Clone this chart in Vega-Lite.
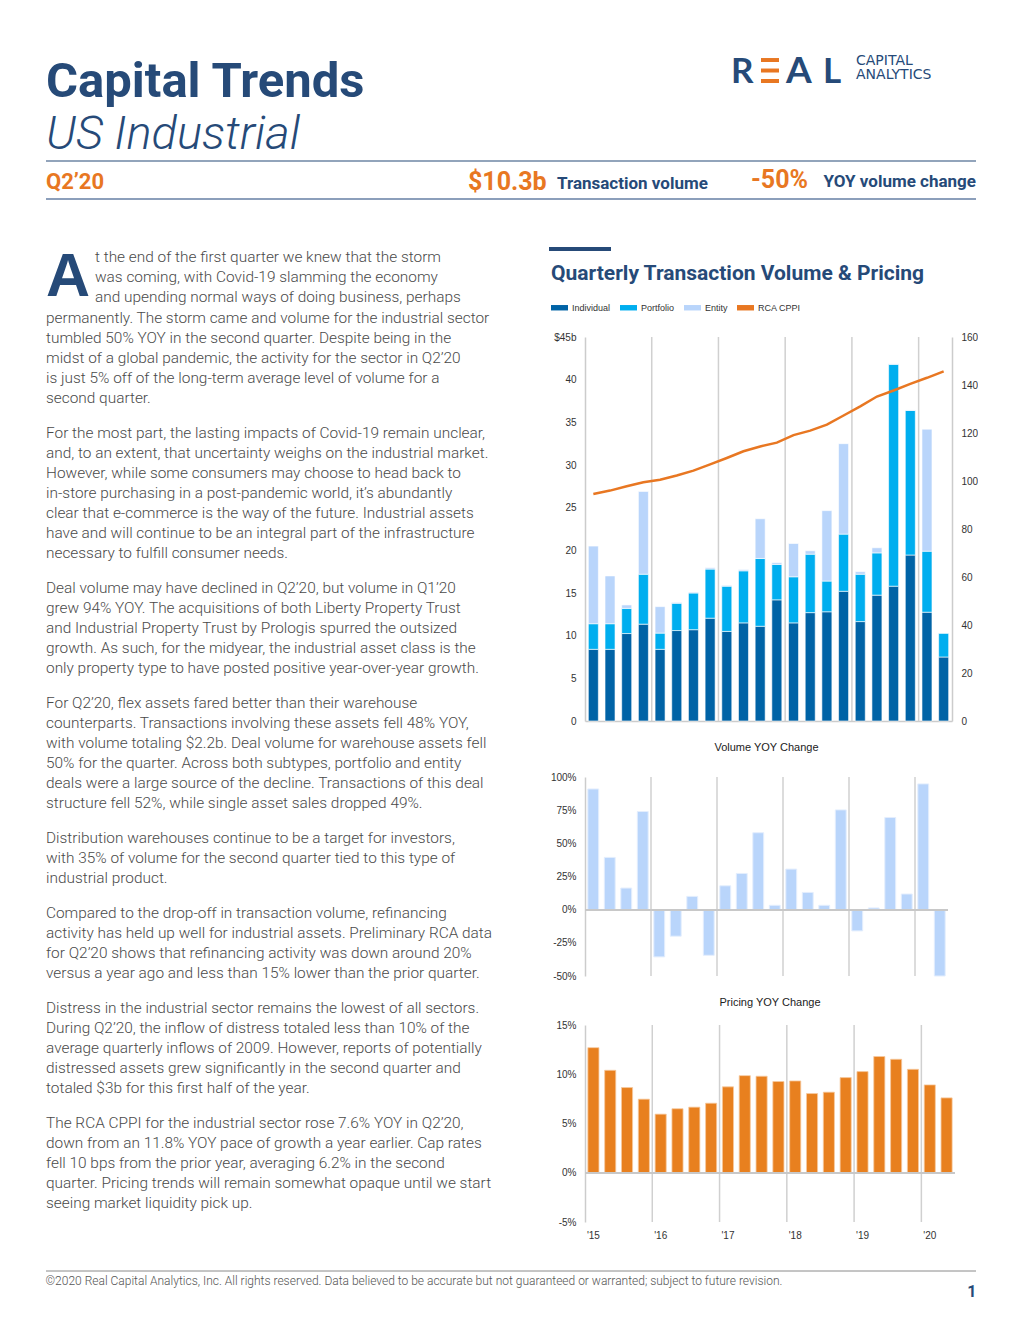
{
  "$schema": "https://vega.github.io/schema/vega-lite/v6.json",
  "background": "white",
  "padding": {"left": 45, "top": 53, "right": 0, "bottom": 0},
  "datasets": {
    "qd": [
      {"q":"2015Q1","vyoy":91,"pyoy":12.7,"cppi":94.6},
      {"q":"2015Q2","vyoy":39.4,"pyoy":10.4,"cppi":96.0},
      {"q":"2015Q3","vyoy":16.3,"pyoy":8.65,"cppi":97.8},
      {"q":"2015Q4","vyoy":74,"pyoy":7.47,"cppi":99.5},
      {"q":"2016Q1","vyoy":-35.6,"pyoy":5.95,"cppi":100.5},
      {"q":"2016Q2","vyoy":-20,"pyoy":6.5,"cppi":102.3},
      {"q":"2016Q3","vyoy":10,"pyoy":6.66,"cppi":104.3},
      {"q":"2016Q4","vyoy":-34.4,"pyoy":7.06,"cppi":106.9},
      {"q":"2017Q1","vyoy":18,"pyoy":8.72,"cppi":109.6},
      {"q":"2017Q2","vyoy":27.3,"pyoy":9.86,"cppi":112.4},
      {"q":"2017Q3","vyoy":58,"pyoy":9.8,"cppi":114.4},
      {"q":"2017Q4","vyoy":3.3,"pyoy":9.26,"cppi":116.0},
      {"q":"2018Q1","vyoy":30.6,"pyoy":9.32,"cppi":119.1},
      {"q":"2018Q2","vyoy":13,"pyoy":8.04,"cppi":121.0},
      {"q":"2018Q3","vyoy":3.3,"pyoy":8.18,"cppi":123.5},
      {"q":"2018Q4","vyoy":75.2,"pyoy":9.66,"cppi":127.3},
      {"q":"2019Q1","vyoy":-16,"pyoy":10.27,"cppi":131.1},
      {"q":"2019Q2","vyoy":1.3,"pyoy":11.8,"cppi":135.2},
      {"q":"2019Q3","vyoy":69.5,"pyoy":11.52,"cppi":137.7},
      {"q":"2019Q4","vyoy":11.8,"pyoy":10.5,"cppi":140.5},
      {"q":"2020Q1","vyoy":94.8,"pyoy":8.92,"cppi":143.0},
      {"q":"2020Q2","vyoy":-50,"pyoy":7.6,"cppi":145.7}
    ],
    "vol": [
      {"q":"2015Q1","type":"Individual","v":8.4},{"q":"2015Q1","type":"Portfolio","v":3.0},{"q":"2015Q1","type":"Entity","v":9.1},
      {"q":"2015Q2","type":"Individual","v":8.4},{"q":"2015Q2","type":"Portfolio","v":3.0},{"q":"2015Q2","type":"Entity","v":5.6},
      {"q":"2015Q3","type":"Individual","v":10.25},{"q":"2015Q3","type":"Portfolio","v":2.95},{"q":"2015Q3","type":"Entity","v":0.4},
      {"q":"2015Q4","type":"Individual","v":11.35},{"q":"2015Q4","type":"Portfolio","v":5.85},{"q":"2015Q4","type":"Entity","v":9.7},
      {"q":"2016Q1","type":"Individual","v":8.4},{"q":"2016Q1","type":"Portfolio","v":1.9},{"q":"2016Q1","type":"Entity","v":3.1},
      {"q":"2016Q2","type":"Individual","v":10.6},{"q":"2016Q2","type":"Portfolio","v":3.2},{"q":"2016Q2","type":"Entity","v":0.1},
      {"q":"2016Q3","type":"Individual","v":10.7},{"q":"2016Q3","type":"Portfolio","v":4.3},{"q":"2016Q3","type":"Entity","v":0.1},
      {"q":"2016Q4","type":"Individual","v":12.05},{"q":"2016Q4","type":"Portfolio","v":5.75},{"q":"2016Q4","type":"Entity","v":0.15},
      {"q":"2017Q1","type":"Individual","v":10.5},{"q":"2017Q1","type":"Portfolio","v":5.3},{"q":"2017Q1","type":"Entity","v":0.1},
      {"q":"2017Q2","type":"Individual","v":11.5},{"q":"2017Q2","type":"Portfolio","v":6.1},{"q":"2017Q2","type":"Entity","v":0.15},
      {"q":"2017Q3","type":"Individual","v":11.1},{"q":"2017Q3","type":"Portfolio","v":7.95},{"q":"2017Q3","type":"Entity","v":4.65},
      {"q":"2017Q4","type":"Individual","v":14.2},{"q":"2017Q4","type":"Portfolio","v":4.15},{"q":"2017Q4","type":"Entity","v":0.2},
      {"q":"2018Q1","type":"Individual","v":11.5},{"q":"2018Q1","type":"Portfolio","v":5.4},{"q":"2018Q1","type":"Entity","v":3.9},
      {"q":"2018Q2","type":"Individual","v":12.7},{"q":"2018Q2","type":"Portfolio","v":6.85},{"q":"2018Q2","type":"Entity","v":0.4},
      {"q":"2018Q3","type":"Individual","v":12.8},{"q":"2018Q3","type":"Portfolio","v":3.6},{"q":"2018Q3","type":"Entity","v":8.25},
      {"q":"2018Q4","type":"Individual","v":15.2},{"q":"2018Q4","type":"Portfolio","v":6.7},{"q":"2018Q4","type":"Entity","v":10.6},
      {"q":"2019Q1","type":"Individual","v":11.65},{"q":"2019Q1","type":"Portfolio","v":5.55},{"q":"2019Q1","type":"Entity","v":0.3},
      {"q":"2019Q2","type":"Individual","v":14.75},{"q":"2019Q2","type":"Portfolio","v":4.95},{"q":"2019Q2","type":"Entity","v":0.6},
      {"q":"2019Q3","type":"Individual","v":15.8},{"q":"2019Q3","type":"Portfolio","v":26.0},{"q":"2019Q3","type":"Entity","v":0.05},
      {"q":"2019Q4","type":"Individual","v":19.45},{"q":"2019Q4","type":"Portfolio","v":16.95},{"q":"2019Q4","type":"Entity","v":0.05},
      {"q":"2020Q1","type":"Individual","v":12.75},{"q":"2020Q1","type":"Portfolio","v":7.15},{"q":"2020Q1","type":"Entity","v":14.3},
      {"q":"2020Q2","type":"Individual","v":7.5},{"q":"2020Q2","type":"Portfolio","v":2.8},{"q":"2020Q2","type":"Entity","v":0}
    ],
    "p1a": [
      {"l":1,"t":"t the end of the first quarter we knew that the storm"},
      {"l":2,"t":"was coming, with Covid-19 slamming the economy"},
      {"l":3,"t":"and upending normal ways of doing business, perhaps"}
    ],
    "p1b": [
      {"l":1,"t":"permanently. The storm came and volume for the industrial sector"},
      {"l":2,"t":"tumbled 50% YOY in the second quarter. Despite being in the"},
      {"l":3,"t":"midst of a global pandemic, the activity for the sector in Q2’20"},
      {"l":4,"t":"is just 5% off of the long-term average level of volume for a"},
      {"l":5,"t":"second quarter."}
    ],
    "p2": [
      {"l":1,"t":"For the most part, the lasting impacts of Covid-19 remain unclear,"},
      {"l":2,"t":"and, to an extent, that uncertainty weighs on the industrial market."},
      {"l":3,"t":"However, while some consumers may choose to head back to"},
      {"l":4,"t":"in-store purchasing in a post-pandemic world, it’s abundantly"},
      {"l":5,"t":"clear that e-commerce is the way of the future. Industrial assets"},
      {"l":6,"t":"have and will continue to be an integral part of the infrastructure"},
      {"l":7,"t":"necessary to fulfill consumer needs."}
    ],
    "p3": [
      {"l":1,"t":"Deal volume may have declined in Q2’20, but volume in Q1’20"},
      {"l":2,"t":"grew 94% YOY. The acquisitions of both Liberty Property Trust"},
      {"l":3,"t":"and Industrial Property Trust by Prologis spurred the outsized"},
      {"l":4,"t":"growth. As such, for the midyear, the industrial asset class is the"},
      {"l":5,"t":"only property type to have posted positive year-over-year growth."}
    ],
    "p4": [
      {"l":1,"t":"For Q2’20, flex assets fared better than their warehouse"},
      {"l":2,"t":"counterparts. Transactions involving these assets fell 48% YOY,"},
      {"l":3,"t":"with volume totaling $2.2b. Deal volume for warehouse assets fell"},
      {"l":4,"t":"50% for the quarter. Across both subtypes, portfolio and entity"},
      {"l":5,"t":"deals were a large source of the decline. Transactions of this deal"},
      {"l":6,"t":"structure fell 52%, while single asset sales dropped 49%."}
    ],
    "p5": [
      {"l":1,"t":"Distribution warehouses continue to be a target for investors,"},
      {"l":2,"t":"with 35% of volume for the second quarter tied to this type of"},
      {"l":3,"t":"industrial product."}
    ],
    "p6": [
      {"l":1,"t":"Compared to the drop-off in transaction volume, refinancing"},
      {"l":2,"t":"activity has held up well for industrial assets. Preliminary RCA data"},
      {"l":3,"t":"for Q2’20 shows that refinancing activity was down around 20%"},
      {"l":4,"t":"versus a year ago and less than 15% lower than the prior quarter."}
    ],
    "p7": [
      {"l":1,"t":"Distress in the industrial sector remains the lowest of all sectors."},
      {"l":2,"t":"During Q2’20, the inflow of distress totaled less than 10% of the"},
      {"l":3,"t":"average quarterly inflows of 2009. However, reports of potentially"},
      {"l":4,"t":"distressed assets grew significantly in the second quarter and"},
      {"l":5,"t":"totaled $3b for this first half of the year."}
    ],
    "p8": [
      {"l":1,"t":"The RCA CPPI for the industrial sector rose 7.6% YOY in Q2’20,"},
      {"l":2,"t":"down from an 11.8% YOY pace of growth a year earlier. Cap rates"},
      {"l":3,"t":"fell 10 bps from the prior year, averaging 6.2% in the second"},
      {"l":4,"t":"quarter. Pricing trends will remain somewhat opaque until we start"},
      {"l":5,"t":"seeing market liquidity pick up."}
    ]
  },
  "columns": 1,
  "spacing": 47,
  "resolve": {"scale": {"color": "independent"}, "legend": {"color": "independent"}},
  "concat": [
    {
      "columns": 1,
      "spacing": 2,
      "concat": [
        {
          "spacing": 0,
          "concat": [
            {
              "width": 685,
              "height": 1,
              "data": {"values": []},
              "mark": {"type": "text"},
              "title": {
                "text": "Capital Trends",
                "subtitle": "US Industrial",
                "orient": "bottom",
                "anchor": "start",
                "font": "Roboto",
                "fontSize": 49,
                "fontWeight": "bold",
                "color": "#264a78",
                "subtitleFont": "Roboto",
                "subtitleFontSize": 47,
                "subtitleFontStyle": "italic",
                "subtitleFontWeight": 300,
                "subtitleColor": "#264a78",
                "subtitlePadding": 5,
                "offset": 4
              }
            },
            {
              "spacing": 7,
              "concat": [
                {
                  "width": 23, "height": 30,
                  "data": {"values": [{"c": "R"}]},
                  "mark": {"type": "text", "align": "left", "baseline": "alphabetic", "font": "Lato", "fontWeight": "bold", "fontSize": 35, "color": "#264a78"},
                  "encoding": {
                    "x": {"datum": 0, "type": "quantitative", "scale": {"domain": [0, 1]}, "axis": null},
                    "y": {"datum": 0, "type": "quantitative", "scale": {"domain": [0, 1]}, "axis": null},
                    "text": {"field": "c"}
                  }
                },
                {
                  "width": 18, "height": 30,
                  "data": {"values": [{"b": "top"}, {"b": "mid"}, {"b": "bottom"}]},
                  "mark": {"type": "rect", "color": "#e87722"},
                  "encoding": {
                    "y": {"field": "b", "type": "nominal", "sort": null, "scale": {"type": "band", "paddingInner": 0.62, "paddingOuter": 0.24, "align": 1}, "axis": null}
                  }
                },
                {
                  "width": 30, "height": 30,
                  "data": {"values": [{"c": "A"}]},
                  "mark": {"type": "text", "align": "left", "baseline": "alphabetic", "font": "Lato", "fontWeight": "bold", "fontSize": 37, "color": "#264a78"},
                  "encoding": {
                    "x": {"datum": 0, "type": "quantitative", "scale": {"domain": [0, 1]}, "axis": null},
                    "y": {"datum": 0, "type": "quantitative", "scale": {"domain": [0, 1]}, "axis": null},
                    "text": {"field": "c"}
                  }
                },
                {
                  "width": 26, "height": 30,
                  "data": {"values": [{"c": "L"}]},
                  "mark": {"type": "text", "align": "left", "baseline": "alphabetic", "font": "Lato", "fontWeight": "bold", "fontSize": 35, "color": "#264a78"},
                  "encoding": {
                    "x": {"datum": 0, "type": "quantitative", "scale": {"domain": [0, 1]}, "axis": null},
                    "y": {"datum": 0, "type": "quantitative", "scale": {"domain": [0, 1]}, "axis": null},
                    "text": {"field": "c"}
                  }
                },
                {
                  "width": 118, "height": 30,
                  "data": {"values": [{"w": "CAPITAL"}, {"w": "ANALYTICS"}]},
                  "mark": {"type": "text", "align": "left", "baseline": "middle", "font": "DejaVu Sans", "fontSize": 14, "color": "#264a78"},
                  "encoding": {
                    "x": {"datum": 0, "type": "quantitative", "scale": {"domain": [0, 1]}, "axis": null},
                    "y": {"field": "w", "type": "ordinal", "sort": null, "scale": {"type": "point", "padding": 0.53}, "axis": null},
                    "text": {"field": "w"}
                  }
                }
              ]
            }
          ]
        },
        {
          "spacing": 0,
          "bounds": "flush",
          "concat": [
            {
              "width": 422, "height": 38,
              "data": {"values": [{"t": "Q2’20"}]},
              "layer": [
                {"mark": {"type": "rule", "color": "#264a78", "strokeWidth": 1.2}, "encoding": {"y": {"datum": 1, "type": "quantitative", "scale": {"domain": [0, 1]}, "axis": null}}},
                {"mark": {"type": "rule", "color": "#8c9fbb", "strokeWidth": 2}, "encoding": {"y": {"datum": 0, "type": "quantitative", "scale": {"domain": [0, 1]}, "axis": null}}},
                {"mark": {"type": "text", "align": "left", "baseline": "middle", "font": "Roboto", "fontWeight": "bold", "fontSize": 22, "color": "#e87722"},
                 "encoding": {"x": {"datum": 0, "type": "quantitative", "scale": {"domain": [0, 1]}, "axis": null}, "y": {"datum": 0.45, "type": "quantitative", "scale": {"domain": [0, 1]}, "axis": null}, "text": {"field": "t"}}}
              ]
            },
            {
              "width": 89, "height": 38,
              "data": {"values": [{"t": "$10.3b"}]},
              "layer": [
                {"mark": {"type": "rule", "color": "#264a78", "strokeWidth": 1.2}, "encoding": {"y": {"datum": 1, "type": "quantitative", "scale": {"domain": [0, 1]}, "axis": null}}},
                {"mark": {"type": "rule", "color": "#8c9fbb", "strokeWidth": 2}, "encoding": {"y": {"datum": 0, "type": "quantitative", "scale": {"domain": [0, 1]}, "axis": null}}},
                {"mark": {"type": "text", "align": "left", "baseline": "middle", "font": "Roboto", "fontWeight": "bold", "fontSize": 25, "color": "#e87722"},
                 "encoding": {"x": {"datum": 0, "type": "quantitative", "scale": {"domain": [0, 1]}, "axis": null}, "y": {"datum": 0.45, "type": "quantitative", "scale": {"domain": [0, 1]}, "axis": null}, "text": {"field": "t"}}}
              ]
            },
            {
              "width": 194, "height": 38,
              "data": {"values": [{"t": "Transaction volume"}]},
              "layer": [
                {"mark": {"type": "rule", "color": "#264a78", "strokeWidth": 1.2}, "encoding": {"y": {"datum": 1, "type": "quantitative", "scale": {"domain": [0, 1]}, "axis": null}}},
                {"mark": {"type": "rule", "color": "#8c9fbb", "strokeWidth": 2}, "encoding": {"y": {"datum": 0, "type": "quantitative", "scale": {"domain": [0, 1]}, "axis": null}}},
                {"mark": {"type": "text", "align": "left", "baseline": "middle", "font": "Roboto", "fontWeight": "bold", "fontSize": 17, "color": "#264a78"},
                 "encoding": {"x": {"datum": 0, "type": "quantitative", "scale": {"domain": [0, 1]}, "axis": null}, "y": {"datum": 0.4, "type": "quantitative", "scale": {"domain": [0, 1]}, "axis": null}, "text": {"field": "t"}}}
              ]
            },
            {
              "width": 66, "height": 38,
              "data": {"values": [{"t": "-50%"}]},
              "layer": [
                {"mark": {"type": "rule", "color": "#264a78", "strokeWidth": 1.2}, "encoding": {"y": {"datum": 1, "type": "quantitative", "scale": {"domain": [0, 1]}, "axis": null}}},
                {"mark": {"type": "rule", "color": "#8c9fbb", "strokeWidth": 2}, "encoding": {"y": {"datum": 0, "type": "quantitative", "scale": {"domain": [0, 1]}, "axis": null}}},
                {"mark": {"type": "text", "align": "left", "baseline": "middle", "font": "Roboto", "fontWeight": "bold", "fontSize": 25, "color": "#e87722"},
                 "encoding": {"x": {"datum": 0, "type": "quantitative", "scale": {"domain": [0, 1]}, "axis": null}, "y": {"datum": 0.5, "type": "quantitative", "scale": {"domain": [0, 1]}, "axis": null}, "text": {"field": "t"}}}
              ]
            },
            {
              "width": 159, "height": 38,
              "data": {"values": [{"t": "YOY volume change"}]},
              "layer": [
                {"mark": {"type": "rule", "color": "#264a78", "strokeWidth": 1.2}, "encoding": {"y": {"datum": 1, "type": "quantitative", "scale": {"domain": [0, 1]}, "axis": null}}},
                {"mark": {"type": "rule", "color": "#8c9fbb", "strokeWidth": 2}, "encoding": {"y": {"datum": 0, "type": "quantitative", "scale": {"domain": [0, 1]}, "axis": null}}},
                {"mark": {"type": "text", "align": "right", "baseline": "middle", "font": "Roboto", "fontWeight": "bold", "fontSize": 17, "color": "#264a78"},
                 "encoding": {"x": {"datum": 1, "type": "quantitative", "scale": {"domain": [0, 1]}, "axis": null}, "y": {"datum": 0.45, "type": "quantitative", "scale": {"domain": [0, 1]}, "axis": null}, "text": {"field": "t"}}}
              ]
            }
          ]
        }
      ]
    },
    {
      "columns": 1,
      "spacing": 30,
      "resolve": {"scale": {"color": "independent"}, "legend": {"color": "independent"}},
      "concat": [
        {
          "spacing": 52,
          "resolve": {"scale": {"color": "independent"}, "legend": {"color": "independent"}},
          "concat": [
            {
              "columns": 1,
              "spacing": 15,
              "concat": [
                {
                  "columns": 1,
                  "spacing": 0,
                  "concat": [
                    {
                      "spacing": 4,
                      "concat": [
                        {
                          "width": 44, "height": 49,
                          "data": {"values": [{"c": "A"}]},
                          "mark": {"type": "text", "align": "left", "baseline": "alphabetic", "font": "Liberation Sans", "fontWeight": "bold", "fontSize": 61, "color": "#264a78"},
                          "encoding": {
                            "x": {"datum": 0, "type": "quantitative", "scale": {"domain": [0, 1]}, "axis": null},
                            "y": {"datum": 0, "type": "quantitative", "scale": {"domain": [0, 1]}, "axis": null},
                            "text": {"field": "c"}
                          }
                        },
                        {
                          "width": 402, "height": 60,
                          "data": {"name": "p1a"},
                          "mark": {"type": "text", "align": "left", "baseline": "middle", "font": "Roboto", "fontSize": 15.4, "fontWeight": 300, "color": "#4a4a4a"},
                          "encoding": {
                            "x": {"datum": 0, "type": "quantitative", "scale": {"domain": [0, 1]}, "axis": null},
                            "y": {"field": "l", "type": "ordinal", "scale": {"type": "point", "padding": 0.5}, "axis": null},
                            "text": {"field": "t"}
                          }
                        }
                      ]
                    },
                    {
                      "width": 450, "height": 100,
                      "data": {"name": "p1b"},
                      "mark": {"type": "text", "align": "left", "baseline": "middle", "font": "Roboto", "fontSize": 15.4, "fontWeight": 300, "color": "#4a4a4a"},
                      "encoding": {
                        "x": {"datum": 0, "type": "quantitative", "scale": {"domain": [0, 1]}, "axis": null},
                        "y": {"field": "l", "type": "ordinal", "scale": {"type": "point", "padding": 0.5}, "axis": null},
                        "text": {"field": "t"}
                      }
                    }
                  ]
                },
                {
                  "width": 450, "height": 140,
                  "data": {"name": "p2"},
                  "mark": {"type": "text", "align": "left", "baseline": "middle", "font": "Roboto", "fontSize": 15.4, "fontWeight": 300, "color": "#4a4a4a"},
                  "encoding": {
                    "x": {"datum": 0, "type": "quantitative", "scale": {"domain": [0, 1]}, "axis": null},
                    "y": {"field": "l", "type": "ordinal", "scale": {"type": "point", "padding": 0.5}, "axis": null},
                    "text": {"field": "t"}
                  }
                },
                {
                  "width": 450, "height": 100,
                  "data": {"name": "p3"},
                  "mark": {"type": "text", "align": "left", "baseline": "middle", "font": "Roboto", "fontSize": 15.4, "fontWeight": 300, "color": "#4a4a4a"},
                  "encoding": {
                    "x": {"datum": 0, "type": "quantitative", "scale": {"domain": [0, 1]}, "axis": null},
                    "y": {"field": "l", "type": "ordinal", "scale": {"type": "point", "padding": 0.5}, "axis": null},
                    "text": {"field": "t"}
                  }
                },
                {
                  "width": 450, "height": 120,
                  "data": {"name": "p4"},
                  "mark": {"type": "text", "align": "left", "baseline": "middle", "font": "Roboto", "fontSize": 15.4, "fontWeight": 300, "color": "#4a4a4a"},
                  "encoding": {
                    "x": {"datum": 0, "type": "quantitative", "scale": {"domain": [0, 1]}, "axis": null},
                    "y": {"field": "l", "type": "ordinal", "scale": {"type": "point", "padding": 0.5}, "axis": null},
                    "text": {"field": "t"}
                  }
                },
                {
                  "width": 450, "height": 60,
                  "data": {"name": "p5"},
                  "mark": {"type": "text", "align": "left", "baseline": "middle", "font": "Roboto", "fontSize": 15.4, "fontWeight": 300, "color": "#4a4a4a"},
                  "encoding": {
                    "x": {"datum": 0, "type": "quantitative", "scale": {"domain": [0, 1]}, "axis": null},
                    "y": {"field": "l", "type": "ordinal", "scale": {"type": "point", "padding": 0.5}, "axis": null},
                    "text": {"field": "t"}
                  }
                },
                {
                  "width": 450, "height": 80,
                  "data": {"name": "p6"},
                  "mark": {"type": "text", "align": "left", "baseline": "middle", "font": "Roboto", "fontSize": 15.4, "fontWeight": 300, "color": "#4a4a4a"},
                  "encoding": {
                    "x": {"datum": 0, "type": "quantitative", "scale": {"domain": [0, 1]}, "axis": null},
                    "y": {"field": "l", "type": "ordinal", "scale": {"type": "point", "padding": 0.5}, "axis": null},
                    "text": {"field": "t"}
                  }
                },
                {
                  "width": 450, "height": 100,
                  "data": {"name": "p7"},
                  "mark": {"type": "text", "align": "left", "baseline": "middle", "font": "Roboto", "fontSize": 15.4, "fontWeight": 300, "color": "#4a4a4a"},
                  "encoding": {
                    "x": {"datum": 0, "type": "quantitative", "scale": {"domain": [0, 1]}, "axis": null},
                    "y": {"field": "l", "type": "ordinal", "scale": {"type": "point", "padding": 0.5}, "axis": null},
                    "text": {"field": "t"}
                  }
                },
                {
                  "width": 450, "height": 100,
                  "data": {"name": "p8"},
                  "mark": {"type": "text", "align": "left", "baseline": "middle", "font": "Roboto", "fontSize": 15.4, "fontWeight": 300, "color": "#4a4a4a"},
                  "encoding": {
                    "x": {"datum": 0, "type": "quantitative", "scale": {"domain": [0, 1]}, "axis": null},
                    "y": {"field": "l", "type": "ordinal", "scale": {"type": "point", "padding": 0.5}, "axis": null},
                    "text": {"field": "t"}
                  }
                }
              ]
            },
            {
              "columns": 1,
              "spacing": 12,
              "resolve": {"scale": {"color": "independent"}, "legend": {"color": "independent"}},
              "concat": [
                {
                  "width": 62, "height": 4,
                  "data": {"values": [{"k": "bar"}]},
                  "mark": {"type": "rect", "color": "#264a78"},
                  "encoding": {}
                },
                {
                  "spacing": 0,
                  "resolve": {"scale": {"color": "independent"}, "legend": {"color": "independent"}},
                  "concat": [
                    {
                      "width": 1, "height": 1,
                      "data": {"values": []},
                      "mark": {"type": "text"}
                    },
                    {
                      "columns": 1,
                      "spacing": 16,
                      "resolve": {"scale": {"color": "independent"}, "legend": {"color": "independent"}},
                      "concat": [
                        {
                          "width": 367, "height": 384,
                          "title": {"text": "Quarterly Transaction Volume & Pricing", "anchor": "start", "font": "Roboto", "fontSize": 21, "fontWeight": "bold", "color": "#264a78", "offset": 15},
                          "resolve": {"scale": {"y": "independent"}, "axis": {"y": "independent"}},
                          "layer": [
                            {
                              "data": {"name": "qd"},
                              "transform": [{"filter": "indexof(datum.q, 'Q1') > 0 && datum.q !== '2015Q1'"}],
                              "mark": {"type": "rule", "color": "#d0d0d0", "strokeWidth": 1.5},
                              "encoding": {
                                "x": {"field": "q", "type": "ordinal", "bandPosition": 0, "scale": {"type": "band", "paddingInner": 0, "paddingOuter": 0}, "axis": {"title": null, "labels": false, "ticks": false, "domainColor": "#cccccc", "domainWidth": 1.5}}
                              }
                            },
                            {
                              "data": {"name": "vol"},
                              "transform": [{"window": [{"op": "row_number", "as": "rank"}], "groupby": ["q"]}],
                              "mark": {"type": "bar", "width": {"band": 0.6}, "stroke": "white", "strokeWidth": 0.6},
                              "encoding": {
                                "x": {"field": "q", "type": "ordinal", "scale": {"type": "band", "paddingInner": 0, "paddingOuter": 0}, "axis": {"title": null, "labels": false, "ticks": false, "domainColor": "#cccccc", "domainWidth": 1.5}},
                                "y": {"field": "v", "type": "quantitative", "stack": "zero", "scale": {"domain": [0, 45], "nice": false},
                                      "axis": {"title": null, "values": [0,5,10,15,20,25,30,35,40,45], "labelExpr": "datum.value === 45 ? '$45b' : datum.label", "labelPadding": 9}},
                                "order": {"field": "rank", "type": "quantitative", "sort": "ascending"},
                                "color": {
                                  "field": "type", "type": "nominal",
                                  "scale": {"domain": ["Individual", "Portfolio", "Entity", "RCA CPPI"], "range": ["#0063a6", "#00aeef", "#b9d5fb", "#e87722"]},
                                  "legend": {
                                    "orient": "none", "legendX": -34, "legendY": -38, "direction": "horizontal", "title": null,
                                    "symbolSize": 289, "symbolType": "M-1,-0.32H1V0.32H-1Z", "symbolStrokeWidth": 0,
                                    "labelFont": "Liberation Sans", "labelFontSize": 9, "labelColor": "#333333",
                                    "labelOffset": 4, "columnPadding": 9,
                                    "encode": {
                                      "symbols": {
                                        "shape": {"value": {"expr": "datum.value === 'RCA CPPI' ? 'M-1.2,0H1.2' : 'M-1,-0.32H1V0.32H-1Z'"}},
                                        "fill": {"value": {"expr": "datum.value === 'Individual' ? '#0063a6' : datum.value === 'Portfolio' ? '#00aeef' : datum.value === 'Entity' ? '#b9d5fb' : 'transparent'"}},
                                        "stroke": {"value": {"expr": "datum.value === 'RCA CPPI' ? '#e87722' : 'transparent'"}},
                                        "strokeWidth": {"value": 2},
                                        "opacity": {"value": 1}
                                      }
                                    }
                                  }
                                }
                              }
                            },
                            {
                              "data": {"name": "qd"},
                              "mark": {"type": "line", "strokeWidth": 2.5},
                              "encoding": {
                                "x": {"field": "q", "type": "ordinal", "scale": {"type": "band", "paddingInner": 0, "paddingOuter": 0}, "axis": {"title": null, "labels": false, "ticks": false, "domainColor": "#cccccc", "domainWidth": 1.5}},
                                "y": {"field": "cppi", "type": "quantitative", "scale": {"domain": [0, 160], "nice": false},
                                      "axis": {"orient": "right", "title": null, "values": [0,20,40,60,80,100,120,140,160], "labelPadding": 9}},
                                "color": {"datum": "RCA CPPI", "type": "nominal"}
                              }
                            }
                          ]
                        },
                        {
                          "width": 363, "height": 199,
                          "title": {"text": "Volume YOY Change", "font": "Liberation Sans", "fontSize": 11, "fontWeight": "normal", "color": "#222222", "offset": 19},
                          "data": {"name": "qd"},
                          "layer": [
                            {
                              "transform": [{"filter": "indexof(datum.q, 'Q1') > 0 && datum.q !== '2015Q1'"}],
                              "mark": {"type": "rule", "color": "#d0d0d0", "strokeWidth": 1.5},
                              "encoding": {"x": {"field": "q", "type": "ordinal", "bandPosition": 0, "scale": {"type": "band", "paddingInner": 0, "paddingOuter": 0}, "axis": null}}
                            },
                            {
                              "mark": {"type": "bar", "width": {"band": 0.66}, "color": "#b9d5fb", "stroke": "#e4eefd", "strokeWidth": 1},
                              "encoding": {
                                "x": {"field": "q", "type": "ordinal", "scale": {"type": "band", "paddingInner": 0, "paddingOuter": 0}, "axis": null},
                                "y": {"field": "vyoy", "type": "quantitative", "scale": {"domain": [-50, 100], "nice": false},
                                      "axis": {"title": null, "values": [-50,-25,0,25,50,75,100], "labelExpr": "datum.value + '%'", "labelPadding": 9}}
                              }
                            },
                            {
                              "mark": {"type": "rule", "color": "#c8c8c8", "strokeWidth": 1.5},
                              "encoding": {"y": {"datum": 0, "type": "quantitative", "scale": {"domain": [-50, 100], "nice": false},
                                "axis": {"title": null, "values": [-50,-25,0,25,50,75,100], "labelExpr": "datum.value + '%'", "labelPadding": 9}}}
                            }
                          ]
                        },
                        {
                          "width": 370, "height": 197,
                          "title": {"text": "Pricing YOY Change", "font": "Liberation Sans", "fontSize": 11, "fontWeight": "normal", "color": "#222222", "offset": 12},
                          "data": {"name": "qd"},
                          "layer": [
                            {
                              "transform": [{"filter": "indexof(datum.q, 'Q1') > 0 && datum.q !== '2015Q1'"}],
                              "mark": {"type": "rule", "color": "#d0d0d0", "strokeWidth": 1.5},
                              "encoding": {"x": {"field": "q", "type": "ordinal", "bandPosition": 0, "scale": {"type": "band", "paddingInner": 0, "paddingOuter": 0},
                                "axis": {"title": null, "values": ["2015Q1","2016Q1","2017Q1","2018Q1","2019Q1","2020Q1"], "labelExpr": "\"'\" + substring(datum.value, 2, 4)", "domain": false, "ticks": false, "labelPadding": 8, "labelAngle": 0}}}
                            },
                            {
                              "mark": {"type": "bar", "width": {"band": 0.66}, "color": "#e8801f", "stroke": "#f6c9a0", "strokeWidth": 0.8},
                              "encoding": {
                                "x": {"field": "q", "type": "ordinal", "scale": {"type": "band", "paddingInner": 0, "paddingOuter": 0},
                                  "axis": {"title": null, "values": ["2015Q1","2016Q1","2017Q1","2018Q1","2019Q1","2020Q1"], "labelExpr": "\"'\" + substring(datum.value, 2, 4)", "domain": false, "ticks": false, "labelPadding": 8, "labelAngle": 0}},
                                "y": {"field": "pyoy", "type": "quantitative", "scale": {"domain": [-5, 15], "nice": false},
                                      "axis": {"title": null, "values": [-5,0,5,10,15], "labelExpr": "datum.value + '%'", "labelPadding": 9}}
                              }
                            },
                            {
                              "mark": {"type": "rule", "color": "#c8c8c8", "strokeWidth": 1.5},
                              "encoding": {"y": {"datum": 0, "type": "quantitative", "scale": {"domain": [-5, 15], "nice": false},
                                "axis": {"title": null, "values": [-5,0,5,10,15], "labelExpr": "datum.value + '%'", "labelPadding": 9}}}
                            }
                          ]
                        }
                      ]
                    }
                  ]
                }
              ]
            }
          ]
        },
        {
          "spacing": 0,
          "bounds": "flush",
          "concat": [
            {
              "width": 900, "height": 1,
              "data": {"values": [{"k": 1}]},
              "mark": {"type": "rule", "color": "#8a8a8a", "strokeWidth": 1},
              "encoding": {"y": {"datum": 1, "type": "quantitative", "scale": {"domain": [0, 1]}, "axis": null}},
              "title": {"text": "©2020 Real Capital Analytics, Inc. All rights reserved. Data believed to be accurate but not guaranteed or warranted; subject to future revision.", "orient": "bottom", "anchor": "start", "font": "Roboto", "fontSize": 12, "fontWeight": 300, "color": "#555555", "offset": 4}
            },
            {
              "width": 30, "height": 1,
              "data": {"values": [{"k": 1}]},
              "mark": {"type": "rule", "color": "#8a8a8a", "strokeWidth": 1},
              "encoding": {"y": {"datum": 1, "type": "quantitative", "scale": {"domain": [0, 1]}, "axis": null}},
              "title": {"text": "1", "orient": "bottom", "anchor": "end", "font": "Roboto", "fontSize": 16, "fontWeight": "bold", "color": "#264a78", "offset": 12}
            }
          ]
        }
      ]
    }
  ],
  "config": {
    "view": {"stroke": null},
    "axis": {"labelFont": "Liberation Sans", "labelFontSize": 10, "labelColor": "#333333", "domainColor": "#cccccc", "domainWidth": 1.5, "ticks": false, "grid": false, "labelOverlap": false}
  }
}
